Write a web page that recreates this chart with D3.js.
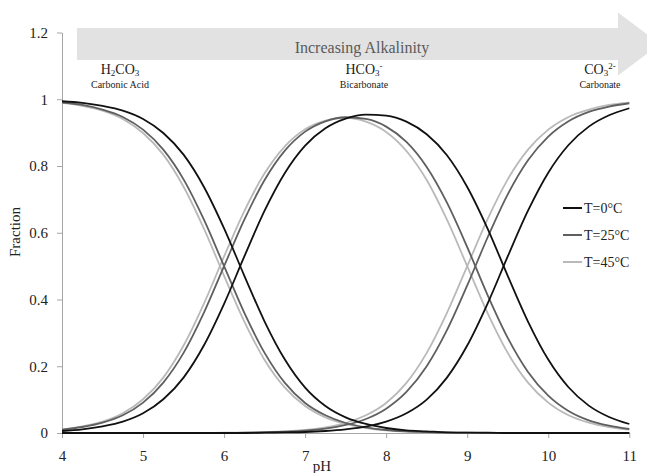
<!DOCTYPE html>
<html>
<head>
<meta charset="utf-8">
<script src="https://cdn.jsdelivr.net/npm/d3@7"></script>
<style>
  body { margin: 0; background: #fff; }
  svg text { font-family: 'Liberation Serif', 'Times New Roman', serif; }
  .axis path, .axis line { stroke: #a6a6a6; }
  .axis text { fill: #222; font-size: 15px; }
</style>
</head>
<body>
<div id="chart"></div>
<script>
// pH sampled every 0.25
let pH = [4, 4.25, 4.5, 4.75, 5, 5.25, 5.5, 5.75, 6, 6.25, 6.5, 6.75, 7, 7.25, 7.5, 7.75,
  8, 8.25, 8.5, 8.75, 9, 9.25, 9.5, 9.75, 10, 10.25, 10.5, 10.75, 11]

// T = 0°C
let h2co3T0 = [0.994, 0.989, 0.980, 0.966, 0.941, 0.899, 0.834, 0.738, 0.613, 0.471, 0.334, 0.220, 0.136, 0.081, 0.047, 0.027,
  0.015, 0.008, 0.005, 0.002, 0.001, 0.001, 0, 0, 0, 0, 0, 0, 0]
let hco3T0 = [0.006, 0.011, 0.020, 0.034, 0.059, 0.101, 0.166, 0.262, 0.387, 0.529, 0.666, 0.779, 0.861, 0.913, 0.942, 0.954,
  0.951, 0.933, 0.895, 0.832, 0.737, 0.613, 0.471, 0.334, 0.220, 0.137, 0.082, 0.048, 0.027]
let co3T0 = [0, 0, 0, 0, 0, 0, 0, 0, 0, 0, 0.001, 0.002, 0.003, 0.006, 0.011, 0.019,
  0.034, 0.059, 0.100, 0.166, 0.262, 0.387, 0.529, 0.666, 0.780, 0.863, 0.918, 0.952, 0.973]

// T = 25°C
let h2co3T25 = [0.990, 0.983, 0.969, 0.947, 0.909, 0.849, 0.760, 0.640, 0.500, 0.360, 0.240, 0.150, 0.090, 0.053, 0.030, 0.017,
  0.009, 0.005, 0.003, 0.001, 0.001, 0, 0, 0, 0, 0, 0, 0, 0]
let hco3T25 = [0.010, 0.018, 0.031, 0.053, 0.091, 0.151, 0.240, 0.360, 0.500, 0.639, 0.758, 0.846, 0.903, 0.934, 0.946, 0.941,
  0.918, 0.872, 0.797, 0.690, 0.557, 0.414, 0.285, 0.183, 0.112, 0.066, 0.038, 0.022, 0.012]
let co3T25 = [0, 0, 0, 0, 0, 0, 0, 0, 0, 0.001, 0.002, 0.004, 0.007, 0.013, 0.024, 0.042,
  0.073, 0.123, 0.200, 0.308, 0.442, 0.585, 0.715, 0.817, 0.888, 0.934, 0.962, 0.978, 0.988]

// T = 45°C
let h2co3T45 = [0.989, 0.980, 0.966, 0.941, 0.899, 0.834, 0.738, 0.613, 0.471, 0.334, 0.219, 0.136, 0.081, 0.047, 0.027, 0.015,
  0.008, 0.004, 0.002, 0.001, 0, 0, 0, 0, 0, 0, 0, 0, 0]
let hco3T45 = [0.011, 0.020, 0.034, 0.059, 0.101, 0.166, 0.262, 0.387, 0.529, 0.665, 0.778, 0.859, 0.910, 0.936, 0.944, 0.933,
  0.902, 0.845, 0.758, 0.639, 0.500, 0.360, 0.240, 0.151, 0.091, 0.053, 0.031, 0.018, 0.010]
let co3T45 = [0, 0, 0, 0, 0, 0, 0, 0, 0.001, 0.001, 0.003, 0.005, 0.009, 0.017, 0.030, 0.053,
  0.090, 0.150, 0.240, 0.360, 0.500, 0.640, 0.760, 0.849, 0.909, 0.947, 0.969, 0.983, 0.990]

let seriesNames = ['T=0°C', 'T=25°C', 'T=45°C']
let xTicks = [4, 5, 6, 7, 8, 9, 10, 11]
let yTicks = [0, 0.2, 0.4, 0.6, 0.8, 1, 1.2]

let width = 647
let height = 473
let serif = "'Liberation Serif', 'Times New Roman', serif"
let colors = ['#111111', '#5f5f5f', '#b9b9b9']

let series = [
  [h2co3T0, hco3T0, co3T0],
  [h2co3T25, hco3T25, co3T25],
  [h2co3T45, hco3T45, co3T45]
]

let svg = d3.select('#chart').append('svg')
  .attr('width', width)
  .attr('height', height)
  .attr('font-family', serif)

let x = d3.scaleLinear().domain([4, 11]).range([62, 629.3])
let y = d3.scaleLinear().domain([0, 1.2]).range([433, 32.5])

// arrow in the background
let arrowPts = [[77, 28], [618, 28], [618, 12.5], [660, 44], [618, 75.5], [618, 60], [77, 60]]
svg.append('polygon')
  .attr('points', arrowPts.map(function (p) { return p.join(',') }).join(' '))
  .attr('fill', '#e2e2e2')

svg.append('text')
  .attr('x', 362)
  .attr('y', 53)
  .attr('text-anchor', 'middle')
  .attr('font-family', serif)
  .attr('fill', '#5a5a5a')
  .style('font-size', '16px')
  .text('Increasing Alkalinity')

// axes
let yAxis = d3.axisLeft(y)
  .tickValues(yTicks)
  .tickSize(5)
  .tickSizeOuter(0)
  .tickPadding(9)
  .tickFormat(function (d) { return String(d) })
svg.append('g')
  .attr('class', 'axis')
  .attr('transform', 'translate(62,0)')
  .call(yAxis)
  .attr('font-family', serif)

let xAxis = d3.axisBottom(x)
  .tickValues(xTicks)
  .tickSize(5)
  .tickSizeOuter(0)
  .tickPadding(12)
  .tickFormat(function (d) { return String(d) })
svg.append('g')
  .attr('class', 'axis')
  .attr('transform', 'translate(0,433)')
  .call(xAxis)
  .attr('font-family', serif)

svg.selectAll('.axis .domain').attr('stroke', '#a6a6a6')

svg.append('text')
  .attr('x', 322)
  .attr('y', 471)
  .attr('text-anchor', 'middle')
  .attr('fill', '#222')
  .style('font-size', '15px')
  .text('pH')

svg.append('text')
  .attr('transform', 'translate(20,232) rotate(-90)')
  .attr('text-anchor', 'middle')
  .attr('fill', '#222')
  .style('font-size', '15px')
  .text('Fraction')

// species labels
function speciesLabel (cx, parts, sub) {
  let t = svg.append('text')
    .attr('x', cx)
    .attr('y', 74)
    .attr('text-anchor', 'middle')
    .attr('fill', '#222')
    .style('font-size', '14px')
  parts.forEach(function (p) {
    let ts = t.append('tspan').text(p[0])
    if (p[1] === 'sub') ts.attr('dy', 2).style('font-size', '9px')
    if (p[1] === 'sup') ts.attr('dy', -7).style('font-size', '9px')
    if (p[1] === 'back') ts.attr('dy', -2)
  })
  svg.append('text')
    .attr('x', cx)
    .attr('y', 88)
    .attr('text-anchor', 'middle')
    .attr('fill', '#222')
    .style('font-size', '10px')
    .text(sub)
}
speciesLabel(120, [['H'], ['2', 'sub'], ['CO', 'back'], ['3', 'sub']], 'Carbonic Acid')
speciesLabel(364, [['HCO'], ['3', 'sub'], ['-', 'sup']], 'Bicarbonate')
speciesLabel(600, [['CO'], ['3', 'sub'], ['2-', 'sup']], 'Carbonate')

// curves
let line = d3.line()
  .x(function (d) { return x(d[0]) })
  .y(function (d) { return y(d[1]) })
  .curve(d3.curveMonotoneX)

let curves = svg.append('g')
for (let i = series.length - 1; i >= 0; i--) {
  series[i].forEach(function (vals) {
    curves.append('path')
      .datum(pH.map(function (p, j) { return [p, vals[j]] }))
      .attr('d', line)
      .attr('fill', 'none')
      .attr('stroke', colors[i])
      .attr('stroke-width', 1.8)
  })
}

// legend
let legend = svg.append('g')
seriesNames.forEach(function (name, i) {
  let ly = 208 + i * 27
  legend.append('line')
    .attr('x1', 563).attr('x2', 582)
    .attr('y1', ly).attr('y2', ly)
    .attr('stroke', colors[i])
    .attr('stroke-width', 2)
  legend.append('text')
    .attr('x', 584)
    .attr('y', ly + 5)
    .attr('fill', '#222')
    .style('font-size', '14px')
    .text(name)
})
</script>
</body>
</html>
